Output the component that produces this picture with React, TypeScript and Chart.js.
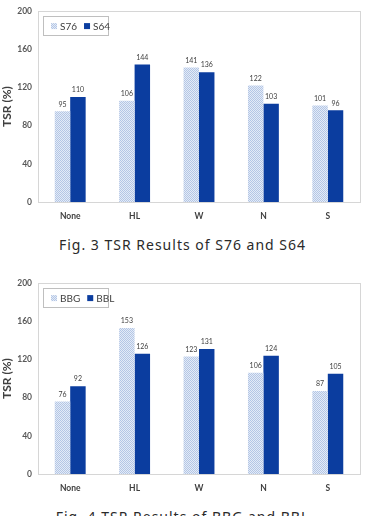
import React, { useEffect, useRef } from "react";
import Chart from "chart.js/auto";

const categories = ["None", "HL", "W", "N", "S"];
const yTicks = [0, 40, 80, 120, 160, 200];

const fig3Names = ["S76", "S64"];
const s76Values = [95, 106, 141, 122, 101];
const s64Values = [110, 144, 136, 103, 96];

const fig4Names = ["BBG", "BBL"];
const bbgValues = [76, 153, 123, 106, 87];
const bblValues = [92, 126, 131, 124, 105];

const DARK = "#0b3d9f";

function makePattern(): CanvasPattern | string {
  const c = document.createElement("canvas");
  c.width = 2;
  c.height = 2;
  const ctx = c.getContext("2d");
  if (!ctx) return "#cdd9ee";
  ctx.fillStyle = "#e3ebf7";
  ctx.fillRect(0, 0, 2, 2);
  ctx.fillStyle = "#b4c6e5";
  ctx.fillRect(0, 0, 1, 1);
  ctx.fillRect(1, 1, 1, 1);
  const p = ctx.createPattern(c, "repeat");
  return p || "#cdd9ee";
}

const boxPlugin = {
  id: "boxPlugin",
  afterDraw(chart: any) {
    const { ctx, chartArea } = chart;
    ctx.save();
    ctx.strokeStyle = "#d6d6d6";
    ctx.lineWidth = 1;
    ctx.strokeRect(
      Math.round(chartArea.left) + 0.5,
      Math.round(chartArea.top) + 0.5,
      Math.round(chartArea.right - chartArea.left),
      Math.round(chartArea.bottom - chartArea.top)
    );
    ctx.restore();
  },
};

const labelPlugin = {
  id: "labelPlugin",
  afterDatasetsDraw(chart: any) {
    const { ctx } = chart;
    ctx.save();
    ctx.font = "7px Lato";
    ctx.fillStyle = "#404040";
    ctx.textAlign = "center";
    ctx.textBaseline = "middle";
    chart.data.datasets.forEach((ds: any, i: number) => {
      const meta = chart.getDatasetMeta(i);
      meta.data.forEach((bar: any, j: number) => {
        ctx.fillText(String(ds.data[j]), bar.x, bar.y - 7);
      });
    });
    ctx.restore();
  },
};

const legendPlugin = {
  id: "legendPlugin",
  afterDraw(chart: any) {
    const { ctx, chartArea } = chart;
    const names: string[] = chart.data.datasets.map((d: any) => d.label);
    const x0 = chartArea.left + 5;
    const y0 = chartArea.top + 5;
    ctx.save();
    ctx.strokeStyle = "#bfbfbf";
    ctx.lineWidth = 1;
    ctx.strokeRect(Math.round(x0) + 0.5, Math.round(y0) + 0.5, 65, 19);
    ctx.font = "10px Lato";
    ctx.textBaseline = "middle";
    const cy = y0 + 10;
    let x = x0 + 8;
    names.forEach((n, i) => {
      const ds = chart.data.datasets[i];
      ctx.fillStyle = ds.backgroundColor;
      ctx.fillRect(x, cy - 3, 6, 6);
      ctx.fillStyle = "#404040";
      ctx.textAlign = "left";
      ctx.fillText(n, x + 9, cy + 0.5);
      x += 9 + ctx.measureText(n).width + 7;
    });
    ctx.restore();
  },
};

function BarPanel(props: { names: string[]; a: number[]; b: number[]; top: number }) {
  const ref = useRef<HTMLCanvasElement>(null);
  useEffect(() => {
    if (!ref.current) return;
    const chart = new Chart(ref.current, {
      type: "bar",
      data: {
        labels: categories,
        datasets: [
          {
            label: props.names[0],
            data: props.a,
            backgroundColor: makePattern() as any,
            borderWidth: 0,
          },
          {
            label: props.names[1],
            data: props.b,
            backgroundColor: DARK,
            borderWidth: 0,
          },
        ],
      },
      options: {
        responsive: false,
        animation: false,
        layout: { padding: { top: 9, right: 5, bottom: 0, left: 0 } },
        datasets: {
          bar: { categoryPercentage: 0.48, barPercentage: 1 },
        },
        plugins: {
          legend: { display: false },
          tooltip: { enabled: false },
        },
        scales: {
          x: {
            grid: { display: false, drawTicks: false },
            border: { display: false },
            ticks: {
              color: "#404040",
              font: { family: "Lato", size: 8.5, weight: "bold" },
              padding: 9,
            },
            afterFit(s: any) {
              s.height = 26;
            },
          },
          y: {
            min: 0,
            max: 200,
            grid: { display: false, drawTicks: false },
            border: { display: false },
            afterBuildTicks(s: any) {
              s.ticks = yTicks.map((v) => ({ value: v }));
            },
            ticks: {
              color: "#595959",
              font: { family: "Lato", size: 8.5, weight: "bold" },
              padding: 6,
            },
            title: {
              display: true,
              text: "TSR (%)",
              color: "#404040",
              font: { family: "Lato", size: 12, weight: "bold" },
              padding: { top: 0, bottom: 0 },
            },
            afterFit(s: any) {
              s.width = 38;
            },
          },
        },
      },
      plugins: [boxPlugin, labelPlugin, legendPlugin],
    });
    return () => chart.destroy();
  }, []);
  return (
    <canvas
      ref={ref}
      width={365}
      height={228}
      style={{ position: "absolute", left: 0, top: props.top, width: 365, height: 228 }}
    />
  );
}

const captionStyle: React.CSSProperties = {
  position: "absolute",
  left: 0,
  width: 365,
  textAlign: "center",
  fontFamily: "'Noto Sans', sans-serif",
  fontSize: 14,
  lineHeight: "16px",
  letterSpacing: "1px",
  color: "#2a2a2a",
  whiteSpace: "nowrap",
};

export default function App() {
  return (
    <div
      style={{
        position: "absolute",
        left: 0,
        top: 0,
        width: 365,
        height: 516,
        background: "#ffffff",
        overflow: "hidden",
      }}
    >
      <BarPanel names={fig3Names} a={s76Values} b={s64Values} top={0} />
      <div style={{ ...captionStyle, top: 237 }}>Fig. 3 TSR Results of S76 and S64</div>
      <BarPanel names={fig4Names} a={bbgValues} b={bblValues} top={272} />
      <div style={{ ...captionStyle, top: 509 }}>Fig. 4 TSR Results of BBG and BBL</div>
    </div>
  );
}
